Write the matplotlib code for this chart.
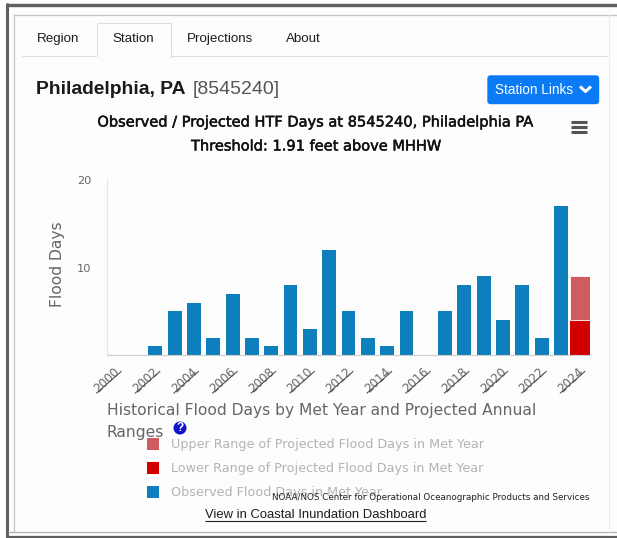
import matplotlib
matplotlib.use("Agg")
import matplotlib.pyplot as plt
import matplotlib.patheffects as pe
from matplotlib.patches import Rectangle, FancyBboxPatch, Circle
from matplotlib.transforms import ScaledTranslation

years = list(range(2000, 2025))
observed = [0, 0, 1, 5, 6, 2, 7, 2, 1, 8, 3, 12, 5, 2, 1, 5, 0, 5, 8, 9, 4, 8, 2, 17, 0]
lower_year = [2024]
lower_range = [4]
upper_range = [5]
tick_years = list(range(2000, 2025, 2))
y_ticks = [10, 20]
tabs = ["Region", "Station", "Projections", "About"]
legend_labels = ["Upper Range of Projected Flood Days in Met Year",
                 "Lower Range of Projected Flood Days in Met Year",
                 "Observed Flood Days in Met Year"]

W, H = 617, 538
BLUE, RED, PINK = "#0d7fbd", "#d10000", "#cf5c60"
fig = plt.figure(figsize=(W / 100, H / 100), dpi=100, facecolor="#fdfdfd")

ui = fig.add_axes([0, 0, 1, 1], zorder=3)
ui.set_xlim(0, W); ui.set_ylim(H, 0); ui.axis("off"); ui.patch.set_alpha(0)
SANS = "Liberation Sans"
semi = [pe.withStroke(linewidth=0.35, foreground="#111111")]

def hline(x0, x1, y, c, lw=1):
    ui.plot([x0, x1], [y, y], color=c, lw=lw, solid_capstyle="butt")
def vline(x, y0, y1, c, lw=1):
    ui.plot([x, x], [y0, y1], color=c, lw=lw, solid_capstyle="butt")

hline(6, W, 4.5, "#5f5f5f", 2.4)
vline(7, 3, 538, "#5f5f5f", 2.2)
hline(8, W, 537, "#5f5f5f", 1.6)
hline(14, W, 14.5, "#c4c4c4", 0.9)
vline(14, 14, 532, "#c4c4c4", 0.9)
hline(8, W, 532, "#b0b0b0", 0.9)
vline(609, 14, 532, "#ececec", 0.8)

hline(22, 608, 56, "#dedede", 0.8)
ui.add_patch(Rectangle((96.5, 23), 74.5, 33.5, fc="#fdfdfd", ec="#dedede", lw=0.8))
hline(97, 170.5, 56.5, "#fdfdfd", 1.4)
for label, cx in zip(tabs, [58.5, 133.5, 220, 303]):
    ui.text(cx, 42, label, family=SANS, fontsize=9.6, color="#1c1c1c", ha="center", va="baseline")

ui.text(36.5, 90, "Philadelphia, PA", family=SANS, weight="bold", fontsize=13.9, color="#1a1a1a", va="center")
ui.text(193, 90, "[8545240]", family=SANS, fontsize=14, color="#555555", va="center")

ui.add_patch(FancyBboxPatch((488, 76), 110.5, 27.5, boxstyle="round,pad=0,rounding_size=2.5",
                            fc="#0a7bf5", ec="#0a7bf5", lw=1))
ui.text(495, 90, "Station Links", family=SANS, fontsize=9.8, color="white", va="center")
ui.plot([580, 585.5, 591], [86.5, 91.5, 86.5], color="white", lw=2.2, solid_capstyle="butt")

t1 = ui.text(316, 122, "Observed / Projected HTF Days at 8545240, Philadelphia PA",
             fontsize=10.5, color="#111111", ha="center", va="center", family="DejaVu Sans")
t2 = ui.text(316.5, 146, "Threshold: 1.91 feet above MHHW",
             fontsize=10.5, color="#111111", ha="center", va="center", family="DejaVu Sans")
t1.set_path_effects(semi); t2.set_path_effects(semi)

for y in (121.5, 126.5, 131.5):
    hline(571, 587, y, "#555555", 2.2)

ax = fig.add_axes([107 / W, 1 - 355 / H, (590 - 107) / W, (355 - 180) / H], zorder=2)
ax.patch.set_alpha(0)
ax.bar(years, observed, width=0.72, color=BLUE, zorder=2)
ax.bar(lower_year, lower_range, width=1.08, color=RED, zorder=2)
ax.bar(lower_year, upper_range, bottom=lower_range, width=1.08, color=PINK,
       edgecolor="white", linewidth=0.6, zorder=2)
ax.set_xlim(1999.5, 2024.5)
ax.set_ylim(0, 20)
for s in ("top", "right"):
    ax.spines[s].set_visible(False)
ax.spines["left"].set_color("#e6e6e6")
ax.spines["bottom"].set_color("#cfcfcf")
ax.spines["left"].set_bounds(0, 20.2)
ax.set_yticks(y_ticks)
ax.set_yticklabels([str(v) for v in y_ticks], fontsize=8.2, color="#666666")
ax.tick_params(axis="y", length=0, pad=11)
ax.set_xticks(tick_years)
ax.set_xticklabels([str(y) for y in tick_years], rotation=43, ha="right", rotation_mode="anchor",
                   fontsize=8.6, color="#666666")
ax.tick_params(axis="x", length=0, pad=8)
offset = ScaledTranslation(-3 / 100, 1 / 100, fig.dpi_scale_trans)
for lab in ax.get_xticklabels():
    lab.set_transform(lab.get_transform() + offset)
ax.set_ylabel("Flood Days", fontsize=11.2, color="#666666", labelpad=0)
ax.yaxis.set_label_coords((65 - 107) / (590 - 107), 0.52)

for yr in tick_years:
    px = 107 + (yr - 1999.5) / 25 * (590 - 107)
    ui.plot([px - 20, px + 4.5], [393, 371.5], color="#555555", lw=0.8)

ui.text(107, 410.5, "Historical Flood Days by Met Year and Projected Annual",
        fontsize=11.15, color="#666666", va="center", family="DejaVu Sans")
ui.text(107, 432, "Ranges", fontsize=11.15, color="#666666", va="center", family="DejaVu Sans")
ui.add_patch(Circle((180, 428), 6.5, fc="#1212c8", ec="none"))
ui.text(180, 428, "?", fontsize=8.5, weight="bold", color="white", ha="center", va="center", family=SANS)

for label, color, y in zip(legend_labels, [PINK, RED, BLUE], [444, 468, 492]):
    ui.add_patch(Rectangle((147, y - 6), 12, 12, fc=color, ec="none"))
    ui.text(171, y + 0.5, label, fontsize=9.15, color="#b3b3b3", va="center", family="DejaVu Sans")

ui.text(590, 497, "NOAA/NOS Center for Operational Oceanographic Products and Services",
        fontsize=6.3, color="#222222", ha="right", va="center", family="DejaVu Sans")
ui.text(315.5, 515, "View in Coastal Inundation Dashboard", family=SANS, fontsize=9.35,
        color="#1c1c1c", ha="center", va="center")
hline(205, 426, 521, "#222222", 0.8)

fig.savefig("out.png", dpi=100, facecolor=fig.get_facecolor())
